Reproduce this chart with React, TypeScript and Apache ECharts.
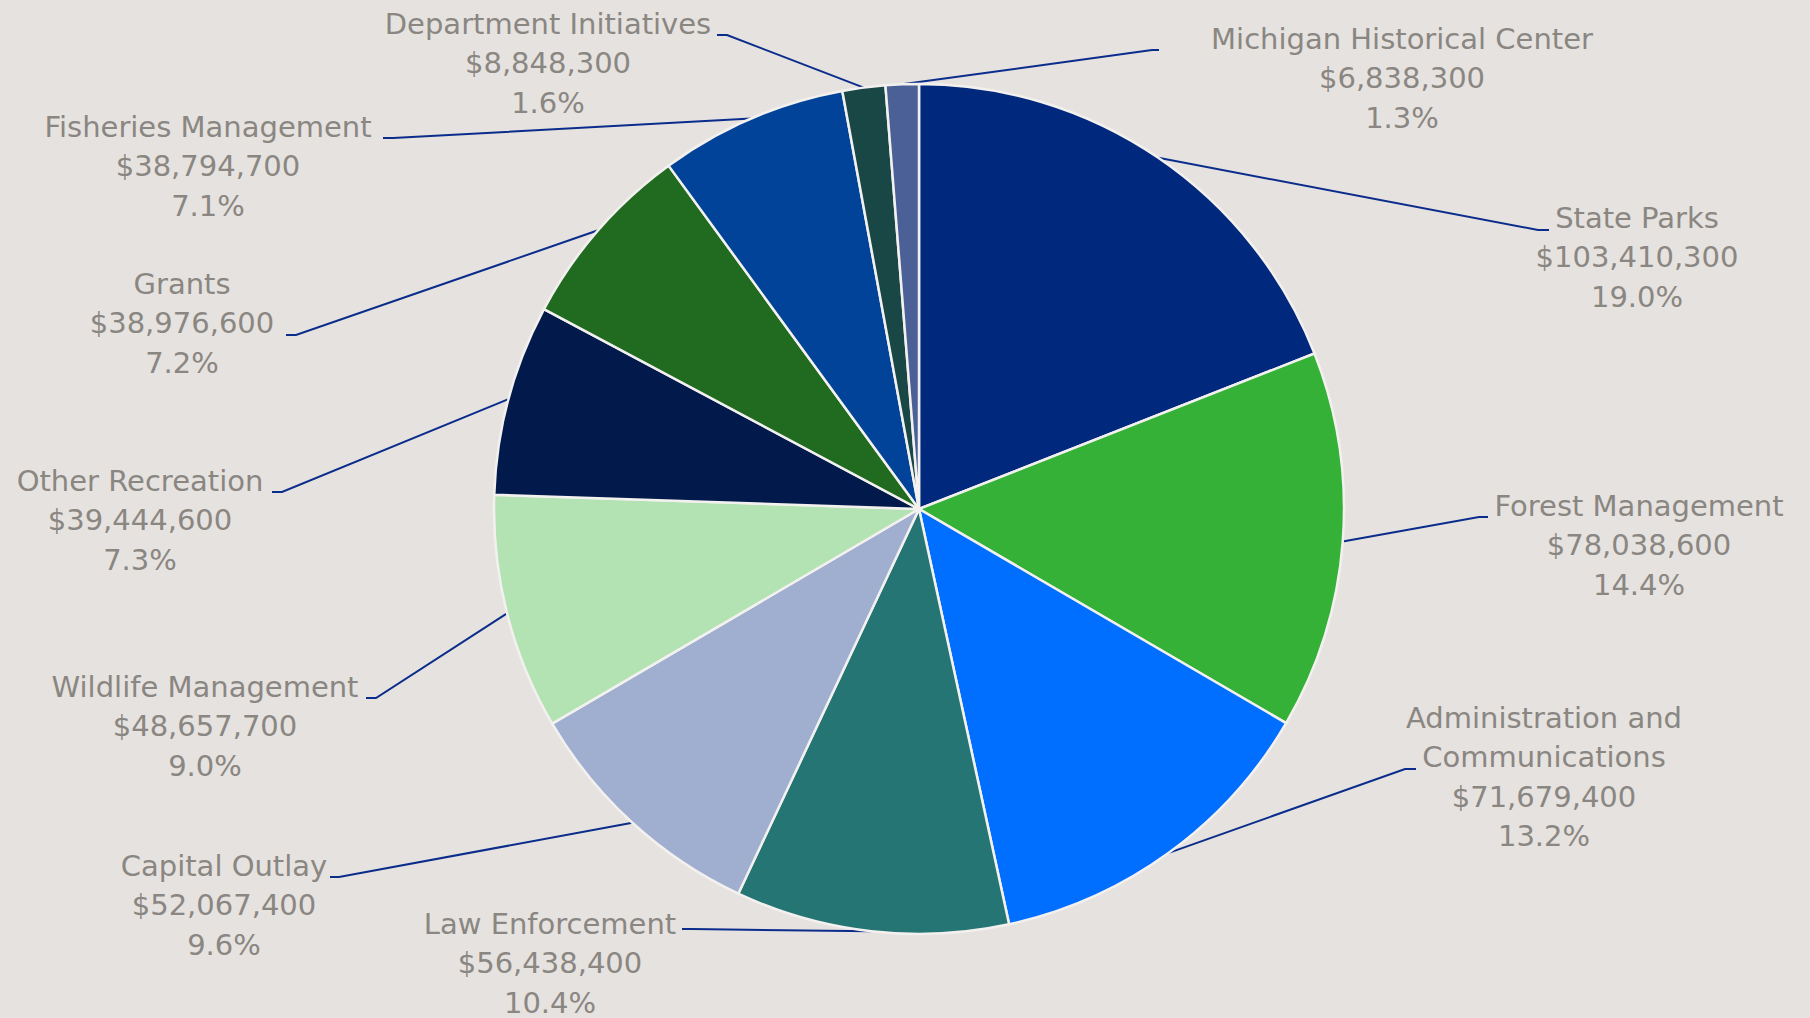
import React, { useEffect, useRef } from "react";
import * as echarts from "echarts";

// ---- Data ----
const categories: string[] = [
  "State Parks",
  "Forest Management",
  "Administration and Communications",
  "Law Enforcement",
  "Capital Outlay",
  "Wildlife Management",
  "Other Recreation",
  "Grants",
  "Fisheries Management",
  "Department Initiatives",
  "Michigan Historical Center",
];

const budgetValues: number[] = [
  103410300, 78038600, 71679400, 56438400, 52067400, 48657700, 39444600,
  38976600, 38794700, 8848300, 6838300,
];

const sliceColors: string[] = [
  "#00287C",
  "#34B136",
  "#006EFF",
  "#247573",
  "#A0AFCF",
  "#B3E2B3",
  "#011A4B",
  "#216B21",
  "#004398",
  "#194745",
  "#4A6096",
];

// ---- Layout (label placement, px) ----
const CENTER: [number, number] = [919, 509];
const RADIUS = 425;

// text block centre [x, y]
const labelCenters: [number, number][] = [
  [1637, 257],
  [1639, 545],
  [1544, 777],
  [550, 963],
  [224, 905],
  [205, 726],
  [140, 520],
  [182, 323],
  [208, 166],
  [548, 63],
  [1402, 78],
];

// leader line [kinkX, kinkY, endX, endY]
const leaderPoints: [number, number, number, number][] = [
  [1538, 230, 1549, 230],
  [1479, 517, 1488, 517],
  [1405, 769, 1416, 769],
  [692, 929, 682, 929],
  [339, 877, 330, 877],
  [376, 698, 366, 698],
  [282, 492, 272, 492],
  [296, 335, 286, 335],
  [393, 138, 383, 138],
  [727, 35, 717, 35],
  [1152, 50, 1159, 50],
];

const total = budgetValues.reduce((a, b) => a + b, 0);

function wrapName(name: string): string {
  if (name.length <= 28) return name;
  const cut = name.lastIndexOf(" ", 20);
  if (cut <= 0) return name;
  return name.slice(0, cut) + "\n" + name.slice(cut + 1);
}

function edgePoint(index: number): [number, number] {
  let cum = 0;
  for (let i = 0; i < index; i++) cum += budgetValues[i];
  const mid = (cum + budgetValues[index] / 2) / total;
  const ang = mid * Math.PI * 2;
  return [CENTER[0] + RADIUS * Math.sin(ang), CENTER[1] - RADIUS * Math.cos(ang)];
}

export default function App() {
  const ref = useRef<HTMLDivElement>(null);

  useEffect(() => {
    document.body.style.margin = "0";
    if (!ref.current) return;
    const chart = echarts.init(ref.current, null, { renderer: "svg" });
    const font = "'DejaVu Sans', 'Liberation Sans', sans-serif";

    chart.setOption({
      animation: false,
      backgroundColor: "#E6E2DF",
      series: [
        {
          type: "pie",
          center: CENTER,
          radius: RADIUS,
          startAngle: 90,
          clockwise: true,
          avoidLabelOverlap: false,
          minShowLabelAngle: 0,
          data: categories.map((name, i) => ({
            name,
            value: budgetValues[i],
            itemStyle: { color: sliceColors[i] },
          })),
          itemStyle: {
            borderColor: "#F3F1EF",
            borderWidth: 2.5,
          },
          label: {
            show: true,
            position: "outside",
            fontFamily: font,
            fontSize: 29,
            lineHeight: 39.5,
            color: "#8A8682",
            align: "center",
            formatter: (p: any) => {
              const v = budgetValues[p.dataIndex];
              const pct = ((v / total) * 100).toFixed(1);
              return `${wrapName(p.name)}\n$${v.toLocaleString("en-US")}\n${pct}%`;
            },
          },
          labelLine: {
            show: true,
            smooth: false,
            length: 10,
            length2: 10,
            lineStyle: { color: "#0A2D8C", width: 2 },
          },
          labelLayout: (params: any) => {
            const i = params.dataIndex;
            const c = labelCenters[i];
            const l = leaderPoints[i];
            const start =
              params.labelLinePoints && params.labelLinePoints[0]
                ? params.labelLinePoints[0]
                : edgePoint(i);
            return {
              x: c[0],
              y: c[1],
              align: "center",
              verticalAlign: "middle",
              labelLinePoints: [start, [l[0], l[1]], [l[2], l[3]]],
            };
          },
          emphasis: { disabled: true },
        },
      ],
    });

    return () => {
      chart.dispose();
    };
  }, []);

  return (
    <div
      ref={ref}
      style={{ width: 1810, height: 1018, background: "#E6E2DF" }}
    />
  );
}
